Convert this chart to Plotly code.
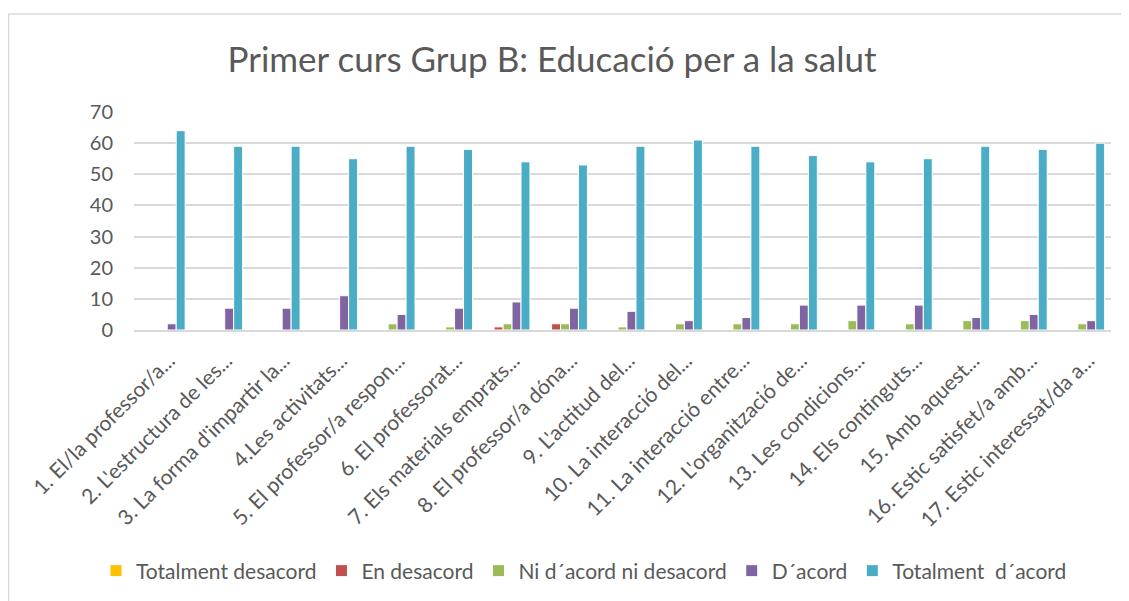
import plotly.graph_objects as go

categories = [
    "1. El/la professor/a...", "2. L'estructura de les...", "3. La forma d'impartir la...",
    "4.Les activitats...", "5. El professor/a respon...", "6. El professorat...",
    "7. Els materials emprats...", "8. El professor/a dóna...", "9. L'actitud del...",
    "10. La interacció del...", "11. La interacció entre...", "12. L'organització de...",
    "13. Les condicions...", "14. Els continguts...", "15. Amb aquest...",
    "16. Estic satisfet/a amb...", "17. Estic interessat/da a...",
]
totalment_desacord = [0, 0, 0, 0, 0, 0, 0, 0, 0, 0, 0, 0, 0, 0, 0, 0, 0]
en_desacord = [0, 0, 0, 0, 0, 0, 1, 2, 0, 0, 0, 0, 0, 0, 0, 0, 0]
ni_acord = [0, 0, 0, 0, 2, 1, 2, 2, 1, 2, 2, 2, 3, 2, 3, 3, 2]
d_acord = [2, 7, 7, 11, 5, 7, 9, 7, 6, 3, 4, 8, 8, 8, 4, 5, 3]
totalment_acord = [64, 59, 59, 55, 59, 58, 54, 53, 59, 61, 59, 56, 54, 55, 59, 58, 60]

series_names = ["Totalment desacord", "En desacord", "Ni d´acord ni desacord", "D´acord", "Totalment  d´acord"]
series_values = [totalment_desacord, en_desacord, ni_acord, d_acord, totalment_acord]
colors = ["#FFC000", "#C0504D", "#9BBB59", "#8064A2", "#4BACC6"]

FONT = "Lato"
W, H = 1121, 593  # page has an 8px body margin
OFF = 8
PLOT_L, PLOT_R, PLOT_T, PLOT_B = 134, 1111, 112, 330  # page pixels

fig = go.Figure()
for name, vals, col in zip(series_names, series_values, colors):
    fig.add_trace(go.Bar(
        x=categories, y=vals, name=name,
        marker=dict(color=col, line=dict(color="white", width=1)),
    ))

fig.update_layout(
    width=W, height=H,
    margin=dict(l=PLOT_L - OFF, r=W - (PLOT_R - OFF), t=PLOT_T - OFF, b=H - (PLOT_B - OFF)),
    paper_bgcolor="white", plot_bgcolor="white",
    barmode="group", bargap=0.22, bargroupgap=0,
    title=dict(text="Primer curs Grup B: Educació per a la salut",
               x=(552 - OFF) / W, xref="container", xanchor="center",
               y=1 - (60 - OFF) / H, yref="container", yanchor="middle",
               font=dict(family=FONT, size=35, color="#595959")),
    font=dict(family=FONT, color="#595959"),
    legend=dict(orientation="h", x=(584 - OFF) / W, xref="container", xanchor="center",
                y=1 - (571 - OFF) / H, yref="container", yanchor="middle",
                font=dict(family=FONT, size=21, color="#595959"),
                itemwidth=30, tracegroupgap=0),
    showlegend=True,
)
fig.update_xaxes(tickangle=-45, tickfont=dict(family=FONT, size=21, color="#595959"),
                 showline=True, linecolor="#d9d9d9", linewidth=2, ticks="",
                 showgrid=False, ticklabelstandoff=8, ticklabelshift=6)
fig.update_yaxes(range=[0, 70], dtick=10, tickfont=dict(family=FONT, size=20, color="#595959"),
                 showgrid=True, gridcolor="#d9d9d9", gridwidth=1.5, zeroline=False,
                 showline=False, ticks="", ticklabelstandoff=20)

pw = PLOT_R - PLOT_L
ph = PLOT_B - PLOT_T
fig.add_shape(type="rect", xref="paper", yref="paper",
              x0=(OFF + 0.5 - PLOT_L) / pw, x1=1.2, y0=-2.0, y1=(PLOT_B - 14) / ph,
              line=dict(color="#d9d9d9", width=1.5), fillcolor="rgba(0,0,0,0)", layer="below")

fig.write_html("out.html")
